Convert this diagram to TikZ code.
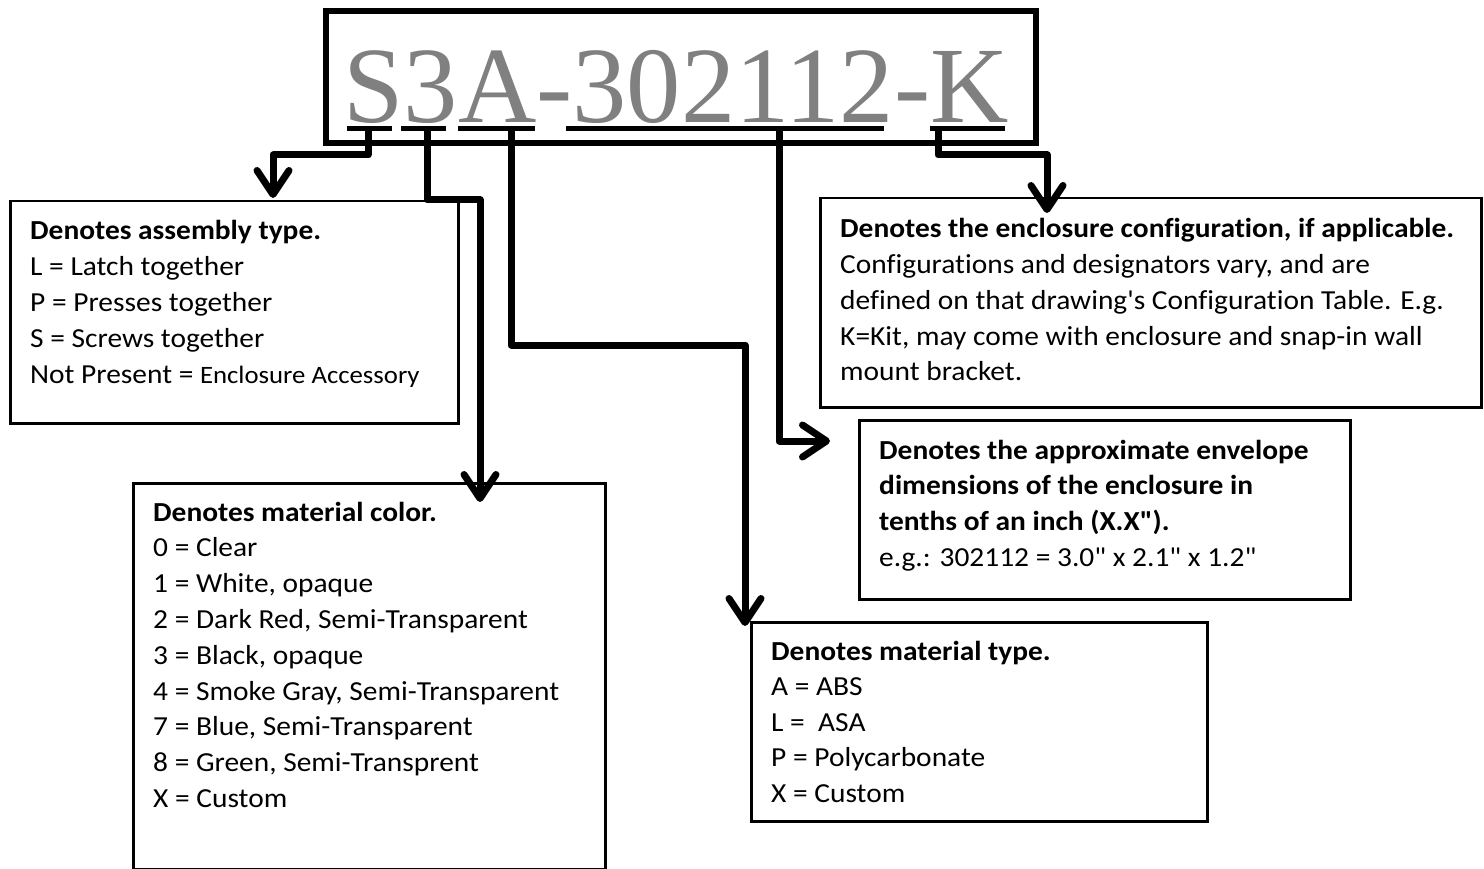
\documentclass[tikz,border=0pt]{standalone}
\usepackage{fontspec}
\setmainfont{Carlito}[Ligatures={TeXOff,NoCommon}, FakeStretch=1.07]
\newfontfamily\titlefont{Liberation Serif}
\usetikzlibrary{arrows.meta}
\definecolor{codegray}{RGB}{128,128,128}
\begin{document}
\begin{tikzpicture}[x=1pt,y=-1pt,
  box/.style={draw, line width=2.5pt, anchor=north west, inner sep=0pt},
  ln/.style={anchor=base west, inner sep=0pt, font=\fontsize{27.5}{32}\selectfont},
  hd/.style={anchor=base west, inner sep=0pt, font=\fontsize{27.5}{32}\selectfont\bfseries},
  conn/.style={line width=7pt, line join=round, -{Straight Barb[length=24pt,width=32pt,round]}},
  uline/.style={line width=5pt},
]
\useasboundingbox (0,0) rectangle (1484,869);

% code box
\node[box, line width=6pt, minimum width=710pt, minimum height=132pt] (code) at (323,8) {};
\node[anchor=base, inner sep=0pt, text=codegray, font=\titlefont\fontsize{108.5}{110}\selectfont] (codetext) at (676,123) {S3A-302112-K};

% underlines
\draw[uline] (347,129) -- (392,129);
\draw[uline] (401,129) -- (446,129);
\draw[uline] (458,129) -- (535,129);
\draw[uline] (566,129) -- (884,129);
\draw[uline] (930,129) -- (1005,129);

\coordinate (uS) at (368,129);
\coordinate (u3) at (427,129);
\coordinate (uA) at (511,129);
\coordinate (uN) at (779,129);
\coordinate (uK) at (938,129);

% boxes
\node[box, minimum width=448pt, minimum height=222pt] (asm) at (9,200) {};
\node[box, minimum width=472pt, minimum height=386pt] (color) at (132,482) {};
\node[box, minimum width=456pt, minimum height=199pt] (mtype) at (750,621) {};
\node[box, minimum width=491pt, minimum height=179pt] (env) at (858,419) {};
\node[box, minimum width=661pt, minimum height=209pt] (config) at (819,197) {};

% arrow tips
\coordinate (t1) at (273,198);
\coordinate (t2) at (480,502);
\coordinate (t3) at (745,626);
\coordinate (t4) at (830,441);
\coordinate (t5) at (1047,213);

% connectors
\draw[conn] (uS) -- (368,155) -- (273,155) -- (t1);
\draw[conn] (u3) -- (427,200) -- (480,200) -- (t2);
\draw[conn] (uA) -- (511,345) -- (745,345) -- (t3);
\draw[conn] (uN) -- (779,441) -- (t4);
\draw[conn] (uK) -- (938,155) -- (1047,155) -- (t5);

% assembly text
\node[hd] (asm-h) at (30,240) {Denotes assembly type.};
\foreach \t [count=\i] in {{L = Latch together},{P = Presses together},{S = Screws together},{Not Present = {\fontsize{25}{28}\selectfont Enclosure Accessory}}}
  \node[ln] (asm-\i) at (30,{240+35.8*\i}) {\t};

% color text
\node[hd] (color-h) at (153,521) {Denotes material color.};
\foreach \t [count=\i] in {{0 = Clear},{1 = White, opaque},{2 = Dark Red, Semi-Transparent},{3 = Black, opaque},{4 = Smoke Gray, Semi-Transparent},{7 = Blue, Semi-Transparent},{8 = Green, Semi-Transprent},{X = Custom}}
  \node[ln] (color-\i) at (153,{521+35.8*\i}) {\t};

% material type text
\node[hd] (mtype-h) at (771,660) {Denotes material type.};
\foreach \t [count=\i] in {{A = ABS},{L =\ \ ASA},{P = Polycarbonate},{X = Custom}}
  \node[ln] (mtype-\i) at (771,{660+35.6*\i}) {\t};

% envelope text
\node[hd] (env-h1) at (879,459) {Denotes the approximate envelope};
\node[hd] (env-h2) at (879,494.7) {dimensions of the enclosure in};
\node[hd] (env-h3) at (879,530.4) {tenths of an inch (X.X").};
\node[ln] (env-1) at (879,566) {e.g.: 302112 = 3.0" x 2.1" x 1.2"};

% config text
\node[hd] (config-h) at (840,238) {Denotes the enclosure configuration, if applicable.};
\foreach \t [count=\i] in {{Configurations and designators vary, and are},{defined on that drawing's Configuration Table. E.g.},{K=Kit, may come with enclosure and snap-in wall},{mount bracket.}}
  \node[ln] (config-\i) at (840,{238+35.7*\i}) {\t};
\end{tikzpicture}
\end{document}
